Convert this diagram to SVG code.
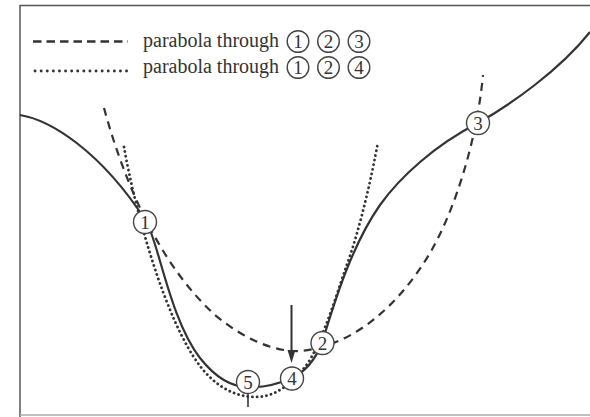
<svg xmlns="http://www.w3.org/2000/svg" width="590" height="417" viewBox="0 0 590 417">
<style>
.frame{stroke:#555;stroke-width:1.5;fill:none}
.solid{stroke:#333;stroke-width:2.2;fill:none}
.dash{stroke:#333;stroke-width:2.2;fill:none;stroke-dasharray:8 6}
.dot{stroke:#333;stroke-width:2.8;fill:none;stroke-dasharray:0.1 4.6;stroke-linecap:round}
.lbl{fill:#fff;stroke:#444;stroke-width:1.4}
.num{font-family:"Liberation Serif",serif;font-size:19px;fill:#333;text-anchor:middle}
.txt{font-family:"Liberation Serif",serif;font-size:20px;fill:#333}
</style>
<rect width="590" height="417" fill="#fff"/>
<g id="frame">
<line class="frame" x1="20" y1="5.5" x2="590" y2="5.5"/>
<line class="frame" x1="20" y1="5" x2="20" y2="417"/>
<line x1="20" y1="415" x2="590" y2="415" stroke="#aaa" stroke-width="1.5"/>
</g>
<g id="legend">
<line class="dash" x1="33" y1="41.5" x2="128" y2="41.5" style="stroke-dasharray:8.5 5;stroke-width:2.5"/>
<line class="dot" x1="35" y1="71" x2="128" y2="71" style="stroke-dasharray:0.1 6"/>
<text class="txt" x="143" y="47">parabola through</text>
<text class="txt" x="143" y="73">parabola through</text>
<circle class="lbl" cx="298" cy="41.5" r="10.8"/><text class="num" x="298" y="48">1</text>
<circle class="lbl" cx="328.5" cy="41.5" r="10.8"/><text class="num" x="328.5" y="48">2</text>
<circle class="lbl" cx="359" cy="41.5" r="10.8"/><text class="num" x="359" y="48">3</text>
<circle class="lbl" cx="298" cy="67.5" r="10.8"/><text class="num" x="298" y="74">1</text>
<circle class="lbl" cx="328.5" cy="67.5" r="10.8"/><text class="num" x="328.5" y="74">2</text>
<circle class="lbl" cx="359" cy="67.5" r="10.8"/><text class="num" x="359" y="74">4</text>
</g>
<g id="connectors">
<path id="function" class="solid" d="M20,115 C50,120 100,150 146,221 C158,240 170,320 200,358 C215,377 232,387 248,387 C262,388 278,384 292,378 C305,372 315,360 322,343 C335,300 352,245 380,205 C400,177 435,145 478,123 C510,105 560,70 590,32"/>
<path id="parabola123" class="dash" d="M104,108 C125,185 160,265 215,315 C245,340 275,352 300,351 C340,348 390,320 430,253 C455,210 477,140 483,75"/>
<path id="parabola124" class="dot" d="M124,147 C135,210 165,320 200,366 C215,386 235,397 255,397 C275,397 290,385 305,367 C320,348 335,300 345,270 C360,230 372,175 378,142"/>
<line id="tick" x1="248" y1="392" x2="248" y2="407" stroke="#333" stroke-width="1.6"/>
<g id="arrow">
<line x1="291.5" y1="305" x2="291.5" y2="354" stroke="#333" stroke-width="2"/>
<polygon points="287.5,350 295.5,350 291.5,363" fill="#333"/>
</g>
</g>
<g id="p1"><circle class="lbl" cx="145" cy="222" r="11.5"/><text class="num" x="145" y="228.5">1</text></g>
<g id="p2"><circle class="lbl" cx="322.5" cy="343" r="11.5"/><text class="num" x="322.5" y="349.5">2</text></g>
<g id="p3"><circle class="lbl" cx="478" cy="123" r="11.5"/><text class="num" x="478" y="129.5">3</text></g>
<g id="p4"><circle class="lbl" cx="292" cy="378.5" r="11.5"/><text class="num" x="292" y="385">4</text></g>
<g id="p5"><circle class="lbl" cx="248" cy="382" r="11.5"/><text class="num" x="248" y="388.5">5</text></g>
</svg>
